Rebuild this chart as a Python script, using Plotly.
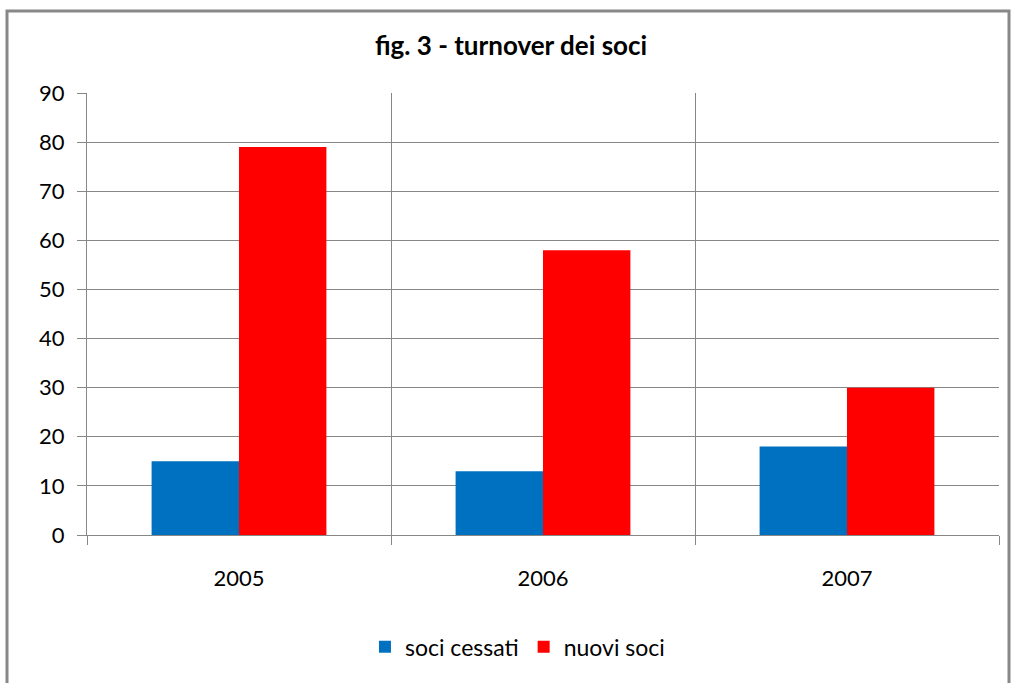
import plotly.graph_objects as go

# Turnover of members per year
anni = ["2005", "2006", "2007"]
soci_cessati = [15, 13, 18]
nuovi_soci = [79, 58, 30]

titolo = "fig. 3 - turnover dei soci"
y_ticks = [0, 10, 20, 30, 40, 50, 60, 70, 80, 90]

FONT = "Lato"
GRID = "#878787"
TICK_SIZE = 22

fig = go.Figure()
fig.add_trace(go.Bar(x=anni, y=soci_cessati, name="soci cessati",
                     marker=dict(color="#0070C0", line=dict(width=0))))
fig.add_trace(go.Bar(x=anni, y=nuovi_soci, name="nuovi soci",
                     marker=dict(color="#FF0000", line=dict(width=0))))

fig.update_layout(
    width=1016, height=683,
    margin=dict(l=87, r=17, t=93, b=148),
    paper_bgcolor="white", plot_bgcolor="white",
    barmode="group", bargap=0.425, bargroupgap=0,
    font=dict(family=FONT, size=TICK_SIZE, color="#000000"),
    title=dict(text="<b>" + titolo + "</b>", x=0.503, xanchor="center",
               y=0.933, yanchor="middle",
               font=dict(family=FONT, size=26, color="#000000")),
    showlegend=True,
    legend=dict(orientation="h", x=0.472, xanchor="center",
                y=-0.253, yanchor="middle",
                font=dict(family=FONT, size=23, color="#000000"),
                itemwidth=30, tracegroupgap=0, itemclick=False),
    xaxis=dict(type="category", tickson="boundaries",
               showgrid=True, gridcolor=GRID, gridwidth=1,
               ticks="outside", ticklen=9, tickcolor=GRID, tickwidth=1,
               showline=True, linecolor=GRID, linewidth=1, mirror=False,
               ticklabelstandoff=24,
               tickfont=dict(family=FONT, size=TICK_SIZE, color="#000000")),
    yaxis=dict(range=[0, 90], tickvals=y_ticks, ticktext=[str(v) for v in y_ticks],
               showgrid=True, gridcolor=GRID, gridwidth=1, zeroline=False,
               ticks="outside", ticklen=9, tickcolor=GRID, tickwidth=1,
               showline=True, linecolor=GRID, linewidth=1,
               ticklabelstandoff=8,
               tickfont=dict(family=FONT, size=TICK_SIZE, color="#000000")),
    shapes=[dict(type="rect", xref="paper", yref="paper",
                 x0=(7 - 87) / 912, x1=(1009 - 87) / 912,
                 y0=(535 - 700) / 442, y1=(535 - 11) / 442,
                 line=dict(color="#888888", width=3), layer="below")],
)

fig.write_html("out.html")
